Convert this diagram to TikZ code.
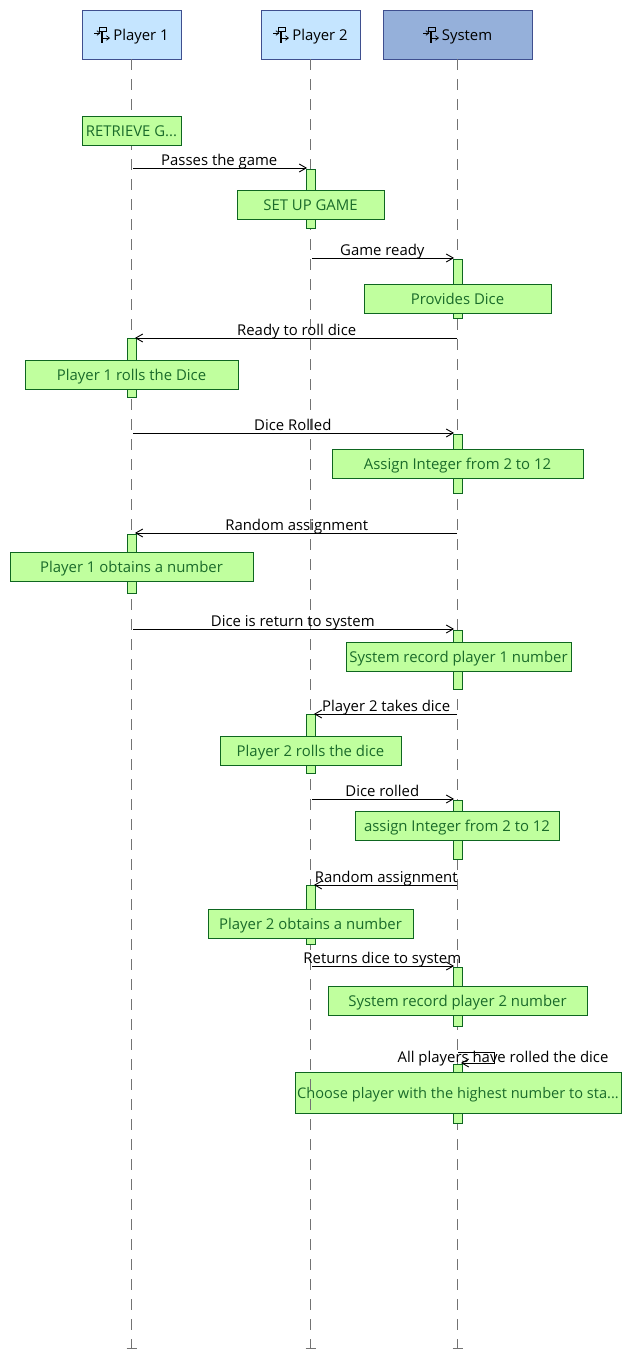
\documentclass[tikz,border=0pt]{standalone}
\usepackage{fontspec}
\setmainfont{Open Sans}
\usetikzlibrary{arrows.meta,calc}
\definecolor{headblue}{HTML}{C5E5FF}
\definecolor{sysblue}{HTML}{95B0DA}
\definecolor{headline}{HTML}{3F4F8F}
\definecolor{actfill}{HTML}{C0FF9E}
\definecolor{actline}{HTML}{0E6620}
\definecolor{acttext}{HTML}{1A6B2A}
\tikzset{
  labelfont/.style={font=\fontsize{14.9}{17}\selectfont, text height=13pt, text depth=2pt},
  header/.style={labelfont, draw=headline, line width=0.9pt, fill=headblue, minimum height=49pt, inner sep=0pt},
  lifeline/.style={draw=black!55, line width=1pt, dash pattern=on 10.5pt off 9.5pt},
  activebar/.style={draw=actline, line width=0.8pt, fill=actfill, minimum width=9pt, minimum height=59pt, inner sep=0pt},
  action/.style={labelfont, draw=actline, line width=0.9pt, fill=actfill, inner sep=0pt, text=acttext},
  message/.style={line width=0.9pt, shorten >=-1.5pt, -{Straight Barb[length=7pt,width=8pt]}},
  msglabel/.style={labelfont, inner sep=0pt}
}
% the icon left of a header text
\newcommand{\lifeicon}[1]{%
  \draw[line width=0.8pt] ($(#1)+(-3,-8)$) rectangle ($(#1)+(4,-4)$);
  \draw[line width=2.4pt] ($(#1)+(0,-4)$) -- ($(#1)+(0,8)$);
  \draw[line width=0.7pt, -{Straight Barb[length=3pt,width=4.5pt]}] ($(#1)+(-8,-2)$) -- ($(#1)+(-1.5,-2)$);
  \draw[line width=0.7pt, -{Straight Barb[length=3pt,width=4.5pt]}] ($(#1)+(1,3)$) -- ($(#1)+(8,3)$);
}
\begin{document}
\begin{tikzpicture}[x=1pt, y=-1pt]
  \useasboundingbox (0,0) rectangle (632,1366);

  \node[header, minimum width=99pt] (p1) at (131.5,34.5) {\hspace*{19pt}Player 1};
  \node[header, minimum width=99pt] (p2) at (310.5,34.5) {\hspace*{19pt}Player 2};
  \node[header, minimum width=149pt, fill=sysblue] (sys) at (457.5,34.5) {\hspace*{19pt}System};
  \lifeicon{102,35}
  \lifeicon{281,35}
  \lifeicon{431,35}

  % lifelines
  \coordinate (p1end) at (131.5,1348);
  \coordinate (p2end) at (310.5,1348);
  \coordinate (sysend) at (457.5,1348);
  \draw[lifeline] (p1.south -| p1end) -- (p1end);
  \draw[lifeline] (p2.south -| p2end) -- (p2end);
  \draw[lifeline] (sys.south -| sysend) -- (sysend);
  \foreach \e in {p1end, p2end, sysend} {
    \draw[draw=black!55, line width=1pt] ($(\e)+(-5,0)$) -- ($(\e)+(5,0)$);
  }

  % activations
  \node[activebar] (b1) at (310.5,198.5) {};
  \node[activebar] (b2) at (457.5,288.5) {};
  \node[activebar] (b3) at (131.5,367.5) {};
  \node[activebar] (b4) at (457.5,463.5) {};
  \node[activebar] (b5) at (131.5,563.5) {};
  \node[activebar] (b6) at (457.5,659.5) {};
  \node[activebar] (b7) at (310.5,743.5) {};
  \node[activebar] (b8) at (457.5,829.5) {};
  \node[activebar] (b9) at (310.5,914.5) {};
  \node[activebar] (b10) at (457.5,996.5) {};
  \node[activebar] (b11) at (457.5,1093.5) {};

  % actions
  \node[action, minimum width=99pt, minimum height=29pt] (a0) at (131.5,130.5) {RETRIEVE G...};
  \node[action, minimum width=147pt, minimum height=29pt] (a1) at (310.5,204.5) {SET UP GAME};
  \node[action, minimum width=187pt, minimum height=29pt] (a2) at (457.5,298.5) {Provides Dice};
  \node[action, minimum width=213pt, minimum height=29pt] (a3) at (131.5,374.5) {Player 1 rolls the Dice};
  \node[action, minimum width=251pt, minimum height=29pt] (a4) at (457.5,463.5) {Assign Integer from 2 to 12};
  \node[action, minimum width=243pt, minimum height=29pt] (a5) at (131.5,566.5) {Player 1 obtains a number};
  \node[action, minimum width=225pt, minimum height=29pt] (a6) at (458.5,656.5) {System record player 1 number};
  \node[action, minimum width=181pt, minimum height=29pt] (a7) at (310.5,750.5) {Player 2 rolls the dice};
  \node[action, minimum width=204pt, minimum height=29pt] (a8) at (457,825.5) {assign Integer from 2 to 12};
  \node[action, minimum width=205pt, minimum height=29pt] (a9) at (310.5,923.5) {Player 2 obtains a number};
  \node[action, minimum width=259pt, minimum height=29pt] (a10) at (457.5,1000.5) {System record player 2 number};
  \node[action, minimum width=326pt, minimum height=41pt, font=\fontsize{14.6}{17}\selectfont] (a11) at (458,1092.5) {Choose player with the highest number to sta...};
  \draw[lifeline, dash phase=12.5pt] (a11.north -| p2end) -- (a11.south -| p2end);

  % messages
  \coordinate (m1) at (133,168);
  \coordinate (m2) at (312,258);
  \coordinate (m3) at (457,338);
  \coordinate (m4) at (133,433);
  \coordinate (m5) at (457,533);
  \coordinate (m6) at (133,629);
  \coordinate (m7) at (457,714);
  \coordinate (m8) at (312,799);
  \coordinate (m9) at (457,885);
  \coordinate (m10) at (312,966);
  \draw[message] (m1) -- (m1 -| b1.west) node[midway, above, msglabel] (l1) {Passes the game};
  \draw[message] (m2) -- (m2 -| b2.west) node[midway, above, msglabel] (l2) {Game ready};
  \draw[message] (m3) -- (m3 -| b3.east) node[midway, above, msglabel] (l3) {Ready to roll dice};
  \draw[message] (m4) -- (m4 -| b4.west) node[midway, above, msglabel] (l4) {Dice Rolled};
  \draw[message] (m5) -- (m5 -| b5.east) node[midway, above, msglabel] (l5) {Random assignment};
  \draw[message] (m6) -- (m6 -| b6.west) node[midway, above, msglabel] (l6) {Dice is return to system};
  \draw[message] (m7) -- (m7 -| b7.east) node[midway, above, msglabel] (l7) {Player 2 takes dice};
  \draw[message] (m8) -- (m8 -| b8.west) node[midway, above, msglabel] (l8) {Dice rolled};
  \draw[message] (m9) -- (m9 -| b9.east) node[midway, above, msglabel] (l9) {Random assignment};
  \draw[message] (m10) -- (m10 -| b10.west) node[midway, above, msglabel] (l10) {Returns dice to system};

  % self message
  \coordinate (m11) at (458,1052);
  \coordinate (m11c) at (494,1052);
  \coordinate (m11d) at (494,1063);
  \node[msglabel] (l11) at (503,1057) {All players have rolled the dice};
  \draw[message] (m11) -- (m11c) -- (m11d) -- (m11d -| b11.east);
\end{tikzpicture}
\end{document}
